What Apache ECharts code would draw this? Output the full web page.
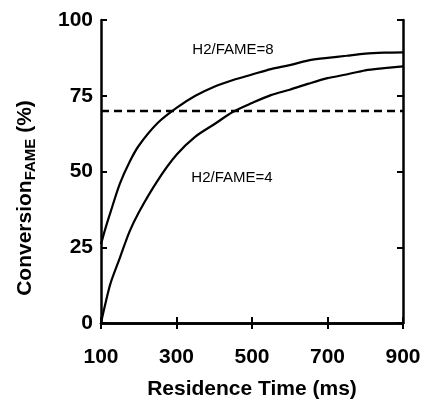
<!DOCTYPE html>
<html>
<head>
<meta charset="utf-8">
<script src="https://cdn.jsdelivr.net/npm/echarts@6/dist/echarts.min.js"></script>
<style>
  html, body { margin: 0; padding: 0; background: #fff; }
  #chart { width: 424px; height: 400px; }
</style>
</head>
<body>
<div id="chart"></div>
<script>
// residence time (ms) and conversion (%)
const timeMs = [100, 110, 125, 150, 175, 200, 250, 300, 350, 400, 450, 500, 550, 600, 650, 700, 750, 800, 850, 900];
const conv8 = [26, 30.5, 36.5, 46, 53, 58.5, 66, 71, 75, 78, 80.2, 82, 83.8, 85.1, 86.7, 87.5, 88.2, 88.9, 89.2, 89.3];
const conv4 = [0, 5.5, 13, 21.5, 30, 36.5, 47, 55.5, 61.5, 65.6, 69.7, 72.6, 75.2, 77, 79, 80.8, 82, 83.4, 84.1, 84.7];
const targetX = [100, 900];
const targetY = [70, 70];
const xTicks = [100, 300, 500, 700, 900];
const yTicks = [0, 25, 50, 75, 100];

const font = "'Liberation Sans', Arial, sans-serif";
let chart = echarts.init(document.getElementById("chart"));

let pairs = (xs, ys) => xs.map((x, i) => [x, ys[i]]);

let axisLine = { show: true, lineStyle: { color: "#000", width: 2.5 } };
let axisTick = { show: true, inside: true, length: 6, lineStyle: { color: "#000", width: 2 } };

let option = {
  animation: false,
  grid: { left: 101, top: 20, right: 21, bottom: 77, containLabel: false, outerBoundsMode: "none" },
  xAxis: [
    {
      type: "value",
      min: xTicks[0],
      max: xTicks[xTicks.length - 1],
      interval: 200,
      position: "bottom",
      axisLine,
      axisTick,
      splitLine: { show: false },
      axisLabel: {
        margin: 24,
        color: "#000",
        fontSize: 21,
        fontWeight: "bold",
        fontFamily: font,
      },
      name: "Residence Time (ms)",
      nameLocation: "middle",
      nameGap: 56,
      nameTextStyle: { color: "#000", fontSize: 21, fontWeight: "bold", fontFamily: font },
    },
    {
      type: "value",
      min: xTicks[0],
      max: xTicks[xTicks.length - 1],
      interval: 200,
      position: "top",
      axisLine,
      axisTick,
      axisLabel: { show: false },
      splitLine: { show: false },
    },
  ],
  yAxis: [
    {
      type: "value",
      min: yTicks[0],
      max: yTicks[yTicks.length - 1],
      interval: 25,
      position: "left",
      axisLine,
      axisTick,
      splitLine: { show: false },
      axisLabel: {
        margin: 8,
        color: "#000",
        fontSize: 21,
        fontWeight: "bold",
        fontFamily: font,
      },
    },
    {
      type: "value",
      min: yTicks[0],
      max: yTicks[yTicks.length - 1],
      interval: 25,
      position: "right",
      axisLine,
      axisTick,
      axisLabel: { show: false },
      splitLine: { show: false },
    },
  ],
  graphic: [
    {
      type: "text",
      x: 25,
      y: 198,
      rotation: Math.PI / 2,
      style: {
        text: "{a|Conversion}{b|FAME}{a| (%)}",
        align: "center",
        verticalAlign: "middle",
        rich: {
          a: { fontSize: 21, fontWeight: "bold", fontFamily: font, fill: "#000", lineHeight: 26 },
          b: { fontSize: 15, fontWeight: "bold", fontFamily: font, fill: "#000", lineHeight: 26, padding: [11, 0, 0, 0] },
        },
      },
    },
    {
      type: "text",
      x: 233,
      y: 50,
      style: { text: "H2/FAME=8", align: "center", verticalAlign: "middle", fontSize: 15, fontFamily: font, fill: "#000" },
    },
    {
      type: "text",
      x: 232,
      y: 178,
      style: { text: "H2/FAME=4", align: "center", verticalAlign: "middle", fontSize: 15, fontFamily: font, fill: "#000" },
    },
  ],
  series: [
    {
      name: "H2/FAME=8",
      type: "line",
      data: pairs(timeMs, conv8),
      smooth: 0.3,
      showSymbol: false,
      lineStyle: { color: "#000", width: 2.2 },
    },
    {
      name: "H2/FAME=4",
      type: "line",
      data: pairs(timeMs, conv4),
      smooth: 0.3,
      showSymbol: false,
      lineStyle: { color: "#000", width: 2.2 },
    },
    {
      name: "target",
      type: "line",
      data: pairs(targetX, targetY),
      showSymbol: false,
      lineStyle: { color: "#000", width: 2.5, type: [8, 5], dashOffset: 0 },
    },
  ],
};

chart.setOption(option);
</script>
</body>
</html>
